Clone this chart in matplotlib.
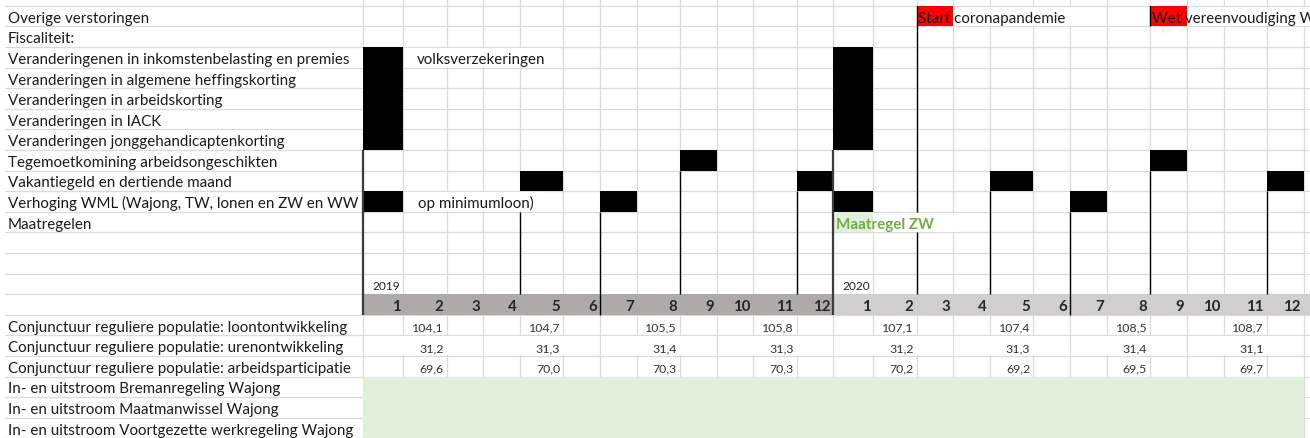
import matplotlib
matplotlib.use("Agg")
import matplotlib.pyplot as plt
from matplotlib.patches import Rectangle

# ---------------- data ----------------
row_labels = [
    "Overige verstoringen",
    "Fiscaliteit:",
    "Veranderingenen in inkomstenbelasting en premies",
    "Veranderingen in algemene heffingskorting",
    "Veranderingen in arbeidskorting",
    "Veranderingen in IACK",
    "Veranderingen jonggehandicaptenkorting",
    "Tegemoetkomining arbeidsongeschikten",
    "Vakantiegeld en dertiende maand",
    "Verhoging WML (Wajong, TW, lonen en ZW en WW",
    "Maatregelen",
    "", "", "", "",
    "Conjunctuur reguliere populatie: loontontwikkeling",
    "Conjunctuur reguliere populatie: urenontwikkeling",
    "Conjunctuur reguliere populatie: arbeidsparticipatie",
    "In- en uitstroom Bremanregeling Wajong",
    "In- en uitstroom Maatmanwissel Wajong",
    "In- en uitstroom Voortgezette werkregeling Wajong",
]
years = [2019, 2020]
months = list(range(1, 13))

# marker months (same in both years), by row index
fiscal_rows = [2, 3, 4, 5, 6]
fiscal_months = [1]
tegemoet_row, tegemoet_months = 7, [9]
vakantie_row, vakantie_months = 8, [5, 12]
wml_row, wml_months = 9, [1, 7]

value_months = [2, 5, 8, 11]
loon = {2019: [104.1, 104.7, 105.5, 105.8], 2020: [107.1, 107.4, 108.5, 108.7]}
uren = {2019: [31.2, 31.3, 31.4, 31.3], 2020: [31.2, 31.3, 31.4, 31.1]}
arbeid = {2019: [69.6, 70.0, 70.3, 70.3], 2020: [70.2, 69.2, 69.5, 69.7]}

# ---------------- layout ----------------
W, H = 1310, 439
ROW_TOP, ROW_H = 6.7, 20.6
LABEL_RIGHT = 363.3
month_w = [40, 43.3, 36.7, 36.7, 43.3, 36.7, 36.7, 43.3, 36.7, 36.7, 43.3, 36.7]
edges = [LABEL_RIGHT]
for y in years:
    for w in month_w:
        edges.append(edges[-1] + w)
edges.append(edges[-1] + 37)

GRID = "#dadada"
FONT = ["Lato", "DejaVu Sans"]
FS = 10.9

fig = plt.figure(figsize=(13.1, 4.39), dpi=100)
ax = fig.add_axes([0, 0, 1, 1])
ax.set_xlim(0, W)
ax.set_ylim(H, 0)
ax.axis("off")


def ry(r):
    return ROW_TOP + r * ROW_H


def cx(year, month):
    i = (year - years[0]) * 12 + month - 1
    return edges[i], edges[i + 1]


def cell(year, month, r0, r1, **kw):
    x0, x1 = cx(year, month)
    ax.add_patch(Rectangle((x0, ry(r0)), x1 - x0, ry(r1 + 1) - ry(r0), **kw))


# grid
for r in range(len(row_labels) + 1):
    ax.plot([5, W], [ry(r), ry(r)], color=GRID, lw=0.9, zorder=1)
for e in edges:
    ax.plot([e, e], [0, H], color=GRID, lw=0.9, zorder=1)

# band with month numbers (row 14)
band = 14
ax.add_patch(Rectangle((edges[0], ry(band)), edges[12] - edges[0], ROW_H,
                       color="#aeaaaa", zorder=2, lw=0))
ax.add_patch(Rectangle((edges[12], ry(band)), W - edges[12], ROW_H,
                       color="#d0cece", zorder=2, lw=0))
for y in years:
    for m in months:
        x0, x1 = cx(y, m)
        ax.text(x1 - 3, ry(band) + 16.3, str(m), ha="right", va="baseline",
                fontsize=10.8, fontweight="bold", color="#262626",
                family=FONT, zorder=6)
    x0, x1 = cx(y, 1)
    ax.text(x1 - 3, ry(13) + 16, str(y), ha="right", va="baseline",
            fontsize=8.6, color="#222222", family=FONT, zorder=6)

# green rows
ax.add_patch(Rectangle((edges[0], ry(18)), edges[24] - edges[0], ry(21) - ry(18),
                       color="#e2efda", zorder=2, lw=0))

# merged-looking cells in row 16
for y in years:
    for q in range(4):
        x0 = cx(y, q * 3 + 1)[0]
        x1 = cx(y, q * 3 + 3)[1]
        ax.add_patch(Rectangle((x0 + 0.8, ry(16) + 0.8), x1 - x0 - 1.6, ROW_H - 1.6,
                               color="white", zorder=1.5, lw=0))

# values
for r, series in [(15, loon), (16, uren), (17, arbeid)]:
    for y in years:
        for m, v in zip(value_months, series[y]):
            x0, x1 = cx(y, m)
            ax.text(x1 - 3, ry(r) + 16, f"{v:.1f}".replace(".", ","),
                    ha="right", va="baseline", fontsize=8.9, color="#333333",
                    family=FONT, zorder=6)

# black blocks
for y in years:
    for m in fiscal_months:
        x0, x1 = cx(y, m)
        ax.add_patch(Rectangle((x0, ry(min(fiscal_rows))), x1 - x0,
                               ry(max(fiscal_rows) + 1) - ry(min(fiscal_rows)),
                               color="black", zorder=4, lw=0))
    for row, ms in [(tegemoet_row, tegemoet_months), (vakantie_row, vakantie_months),
                    (wml_row, wml_months)]:
        for m in ms:
            cell(y, m, row, row, color="black", zorder=4, lw=0)

# red event cells
cell(2020, 3, 0, 0, color="#ff0000", zorder=3, lw=0)
cell(2020, 9, 0, 0, color="#ff0000", zorder=3, lw=0)

# Maatregel ZW cell
cell(2020, 1, 10, 10, color="#e2efda", zorder=3, lw=0)


# overflow text masks (hide gridlines under overflowing text)
def mask(x0, x1, r):
    ax.add_patch(Rectangle((x0, ry(r) + 0.8), x1 - x0, ROW_H - 1.6,
                           color="white", zorder=2.5, lw=0))


mask(edges[1] + 2, 560, 2)
mask(edges[1] + 2, 545, 9)
mask(cx(2020, 3)[1], 1075, 0)
mask(cx(2020, 9)[1], W, 0)
mask(cx(2020, 1)[1], 955, 10)

# vertical stems: (year, month, first row, last row, heavy)
stems = [
    (2019, 1, 7, 14, True),
    (2019, 5, 10, 13, False),
    (2019, 7, 10, 14, False),
    (2019, 9, 8, 13, False),
    (2019, 12, 9, 13, False),
    (2020, 1, 7, 14, True),
    (2020, 3, 0, 9, False),
    (2020, 3, 11, 13, False),
    (2020, 5, 9, 13, False),
    (2020, 7, 10, 14, False),
    (2020, 9, 0, 0, False),
    (2020, 9, 8, 13, False),
    (2020, 12, 9, 13, False),
]
for y, m, r0, r1, heavy in stems:
    x0, _ = cx(y, m)
    ax.plot([x0, x0], [ry(r0), ry(r1 + 1)],
            color="#3c3c3c" if heavy else "black",
            lw=1.6 if heavy else 1.0, zorder=5, solid_capstyle="butt")

# row labels (below the black blocks, so any overflow is hidden)
for r, lab in enumerate(row_labels):
    if lab:
        ax.text(8, ry(r) + 16, lab, ha="left", va="baseline", fontsize=FS,
                color="#1a1a1a", family=FONT, zorder=3.8)

# cell texts
ax.text(edges[1] + 14, ry(2) + 16, "volksverzekeringen", ha="left", va="baseline",
        fontsize=FS, color="#1a1a1a", family=FONT, zorder=6)
ax.text(edges[1] + 15, ry(9) + 16, "op minimumloon)", ha="left", va="baseline",
        fontsize=FS, color="#1a1a1a", family=FONT, zorder=6)
ax.text(cx(2020, 3)[0] + 1.5, ry(0) + 16, "Start coronapandemie", ha="left",
        va="baseline", fontsize=FS, color="#1a1a1a", family=FONT, zorder=6)
ax.text(cx(2020, 9)[0] + 1.5, ry(0) + 16, "Wet vereenvoudiging Wajong", ha="left",
        va="baseline", fontsize=FS, color="#1a1a1a", family=FONT, zorder=6,
        clip_on=True)
ax.text(cx(2020, 1)[0] + 3, ry(10) + 16, "Maatregel ZW", ha="left", va="baseline",
        fontsize=FS, fontweight="bold", color="#70ad47", family=FONT, zorder=6)

fig.savefig("out.png", dpi=100)
